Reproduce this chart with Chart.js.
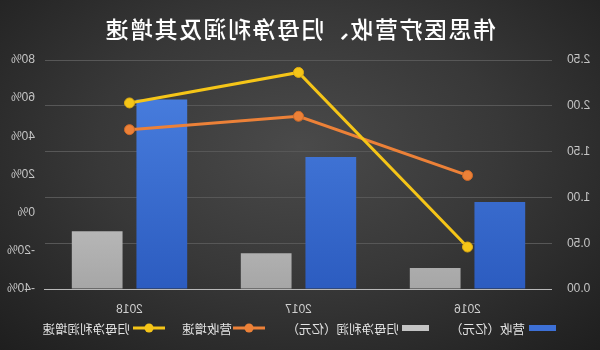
<!DOCTYPE html>
<html>
<head>
<meta charset="utf-8">
<script src="https://cdn.jsdelivr.net/npm/chart.js@4/dist/chart.umd.min.js"></script>
<style>
  html, body { margin: 0; padding: 0; }
  body {
    width: 600px; height: 350px; overflow: hidden;
    background: radial-gradient(ellipse 75% 85% at 50% 42%, #4a4a4a 0%, #383838 45%, #262626 80%, #1c1c1c 100%);
  }
  #wrap { position: relative; width: 600px; height: 350px; transform: scaleX(-1); }
</style>
</head>
<body>
<div id="wrap"><canvas id="c"></canvas></div>
<script>
// Years on the category axis
const categories = ['2016', '2017', '2018'];
// 营收 (亿元)
const revenue = [0.95, 1.44, 2.07];
// 归母净利润 (亿元)
const netProfit = [0.23, 0.39, 0.63];
// 营收增速 (%)
const revenueGrowth = [19.5, 50.5, 43.5];
// 归母净利润增速 (%)
const profitGrowth = [-18, 73.5, 57.5];

const TITLE = '伟思医疗营收、归母净利润及其增速';
const CJK = '"Noto Sans CJK SC", "Noto Sans", sans-serif';
const NUM = '"Liberation Sans", Arial, sans-serif';

function vGrad(ctx, area, top, bottom) {
  const g = ctx.createLinearGradient(0, area.top, 0, area.bottom);
  g.addColorStop(0, top);
  g.addColorStop(1, bottom);
  return g;
}

// Title and legend drawn on the canvas
const decor = {
  id: 'decor',
  afterDraw(chart) {
    const ctx = chart.ctx;
    ctx.save();
    ctx.fillStyle = '#ffffff';
    ctx.font = '500 23px ' + CJK;
    if ('letterSpacing' in ctx) ctx.letterSpacing = '1.5px';
    ctx.textAlign = 'center';
    ctx.textBaseline = 'middle';
    ctx.fillText(TITLE, 300, 29);
    if ('letterSpacing' in ctx) ctx.letterSpacing = '0px';

    const y = 328;
    ctx.font = '12.5px ' + CJK;
    ctx.textAlign = 'left';
    const items = [
      { type: 'box', color: '#3d70d6', x: 44, tx: 75, text: chart.data.datasets[2].label },
      { type: 'box', color: '#c4c4c4', x: 171, tx: 201, text: chart.data.datasets[3].label },
      { type: 'line', color: '#ec8138', x: 335, tx: 368, text: chart.data.datasets[1].label },
      { type: 'line', color: '#f5c518', x: 435, tx: 470, text: chart.data.datasets[0].label }
    ];
    items.forEach(it => {
      if (it.type === 'box') {
        ctx.fillStyle = it.color;
        ctx.fillRect(it.x, y - 3, 27, 6);
      } else {
        ctx.strokeStyle = it.color;
        ctx.lineWidth = 3;
        ctx.beginPath();
        ctx.moveTo(it.x, y);
        ctx.lineTo(it.x + 32, y);
        ctx.stroke();
        ctx.fillStyle = it.color;
        ctx.beginPath();
        ctx.arc(it.x + 16, y, 4.5, 0, Math.PI * 2);
        ctx.fill();
      }
      ctx.fillStyle = '#e2e2e2';
      ctx.fillText(it.text, it.tx, y + 1);
    });
    ctx.restore();
  }
};

new Chart(document.getElementById('c'), {
  data: {
    labels: categories,
    datasets: [
      {
        type: 'line', label: '归母净利润增速', data: profitGrowth, yAxisID: 'yPct', order: 0,
        borderColor: '#f5c518', backgroundColor: '#f5c518', borderWidth: 3,
        pointRadius: 5, pointBackgroundColor: '#f5c518', pointBorderColor: '#e0ad10', pointBorderWidth: 1,
        tension: 0
      },
      {
        type: 'line', label: '营收增速', data: revenueGrowth, yAxisID: 'yPct', order: 1,
        borderColor: '#ec8138', backgroundColor: '#ec8138', borderWidth: 3,
        pointRadius: 5, pointBackgroundColor: '#ec8138', pointBorderColor: '#d06a28', pointBorderWidth: 1,
        tension: 0
      },
      {
        type: 'bar', label: '营收（亿元）', data: revenue, yAxisID: 'yVal', order: 2,
        backgroundColor: c => c.chart.chartArea ? vGrad(c.chart.ctx, c.chart.chartArea, '#4c82e2', '#2c5cc0') : '#3d70d6',
        barPercentage: 0.785, categoryPercentage: 0.765
      },
      {
        type: 'bar', label: '归母净利润（亿元）', data: netProfit, yAxisID: 'yVal', order: 3,
        backgroundColor: c => c.chart.chartArea ? vGrad(c.chart.ctx, c.chart.chartArea, '#e6e6e6', '#a6a6a6') : '#c4c4c4',
        barPercentage: 0.785, categoryPercentage: 0.765
      }
    ]
  },
  options: {
    responsive: true,
    maintainAspectRatio: false,
    animation: false,
    layout: { padding: { top: 60, left: 0, right: 0, bottom: 0 } },
    plugins: { legend: { display: false }, title: { display: false }, tooltip: { enabled: false } },
    scales: {
      x: {
        grid: { display: false },
        border: { display: true, color: '#b8b8b8', width: 1 },
        ticks: { color: '#cfcfcf', font: { family: NUM, size: 12 }, padding: 5 },
        afterFit: s => { s.height = 61; }
      },
      yVal: {
        position: 'left', min: 0, max: 2.5,
        grid: { color: '#575757', lineWidth: 1, drawTicks: false },
        border: { display: false },
        ticks: { stepSize: 0.5, color: '#c4c4c4', font: { family: NUM, size: 12 }, padding: 15,
          callback: v => Number(v).toFixed(2) },
        afterFit: s => { s.width = 48; }
      },
      yPct: {
        position: 'right', min: -40, max: 80,
        grid: { display: false, drawTicks: false },
        border: { display: false },
        ticks: { stepSize: 20, color: '#c4c4c4', font: { family: NUM, size: 12 }, padding: 10,
          callback: v => v + '%' },
        afterFit: s => { s.width = 45; }
      }
    }
  },
  plugins: [decor]
});
</script>
</body>
</html>
